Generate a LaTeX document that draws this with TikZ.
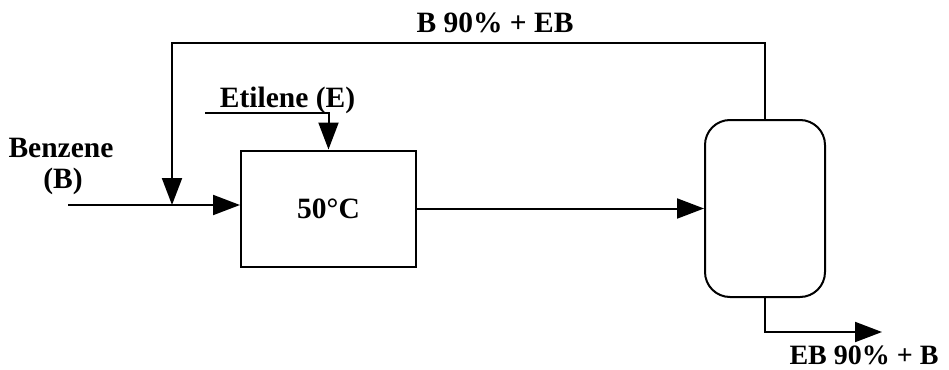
\documentclass[tikz,border=0pt]{standalone}
\usepackage{fontspec}
\setmainfont{Liberation Serif}
\usetikzlibrary{arrows.meta}
\begin{document}
\begin{tikzpicture}[x=1pt,y=-1pt, line width=2pt,
  flow/.style={-{Triangle[length=27pt,width=20pt]}},
  lbl/.style={font=\fontsize{29.5}{33}\selectfont\bfseries, inner sep=0pt, anchor=base},
  reactor/.style={draw, minimum width=175pt, minimum height=116pt, inner sep=0pt, font=\fontsize{29.5}{33}\selectfont\bfseries},
  vessel/.style={draw, rounded corners=25pt, minimum width=120pt, minimum height=177pt, inner sep=0pt}]
\useasboundingbox (0,0) rectangle (949,369);
\node[reactor] (r) at (328.5,208.5) {50°C};
\node[vessel] (v) at (765,208.5) {};
\coordinate (fin) at (68,205);
\coordinate (mix) at (172,205);
\coordinate (rtop) at (172,43);
\coordinate (e0) at (205,113);
\coordinate (pout) at (882,332);
\draw (fin) -- (mix);
\draw[flow] (mix) -- (r.west |- mix);
\draw[flow] (v.north) |- (rtop) -- (mix);
\draw[flow] (e0) -| (r.north);
\draw[flow] (r.east) -- (v.west);
\draw[flow] (v.south) |- (pout);
\node[lbl] (lben) at (61,157) {Benzene};
\node[lbl] (lb) at (63,188) {(B)};
\node[lbl] (leti) at (287.5,107) {Etilene (E)};
\node[lbl] (lrec) at (495,33) {B 90\% + EB};
\node[lbl, font=\fontsize{28}{32}\selectfont\bfseries] (lprod) at (864,364) {EB 90\% + B};
\end{tikzpicture}
\end{document}
